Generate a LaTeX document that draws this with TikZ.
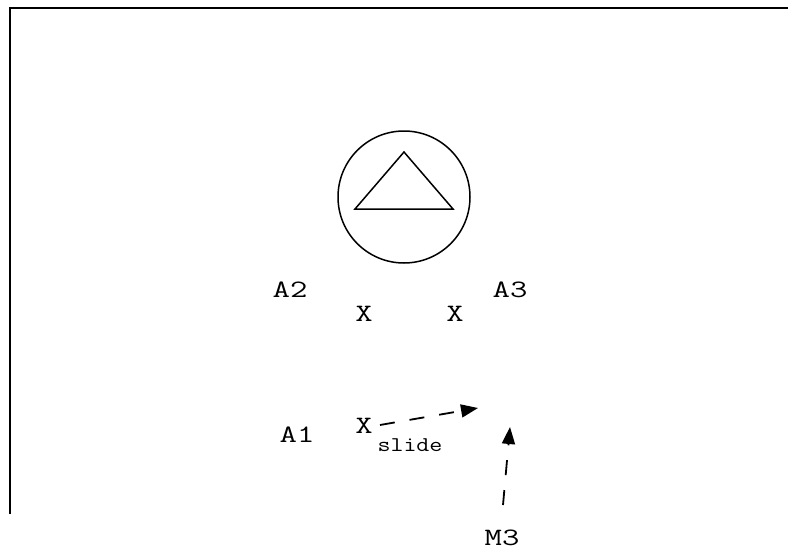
\documentclass[tikz,border=0pt]{standalone}
\usepackage{fontspec}
\newfontfamily\mainmono[FakeStretch=1.35]{Latin Modern Mono}
\newfontfamily\smallmono[FakeStretch=1.2]{Latin Modern Mono}
\usetikzlibrary{arrows.meta}
\begin{document}
\begin{tikzpicture}[x=1pt,y=-1pt,
  lbl/.style={font=\mainmono\fontsize{25}{27}\selectfont, anchor=base, inner sep=0pt},
  small/.style={font=\smallmono\fontsize{21}{23}\selectfont, anchor=base, inner sep=0pt},
  shape line/.style={line width=1.5pt},
  darr/.style={line width=1.8pt, dash pattern=on 15pt off 15pt, -{Triangle[length=17pt,width=13pt]}}]
\useasboundingbox (0,0) rectangle (788,549);
\draw[line width=2pt] (9.5,514) -- (9.5,8) -- (788,8);
\node[draw, circle, shape line, minimum size=132pt, inner sep=0pt] (c) at (404,197) {};
\draw[shape line] (404,152) -- (355,209) -- (453,209) -- cycle;
\node[lbl] (a2) at (290,297) {A2};
\node[lbl] (a3) at (510,297) {A3};
\node[lbl] (x1) at (364,321) {X};
\node[lbl] (x2) at (455,321) {X};
\node[lbl] (a1) at (297,442) {A1};
\node[lbl] (x3) at (364,433) {X};
\node[small] (sl) at (410,451) {slide};
\node[lbl] (m3) at (502,545) {M3};
\coordinate (s1) at (380,425);
\coordinate (t1) at (478,408);
\coordinate (s2) at (503,505);
\coordinate (t2) at (510,427);
\draw[darr] (s1) -- (t1);
\draw[darr] (s2) -- (t2);
\end{tikzpicture}
\end{document}
